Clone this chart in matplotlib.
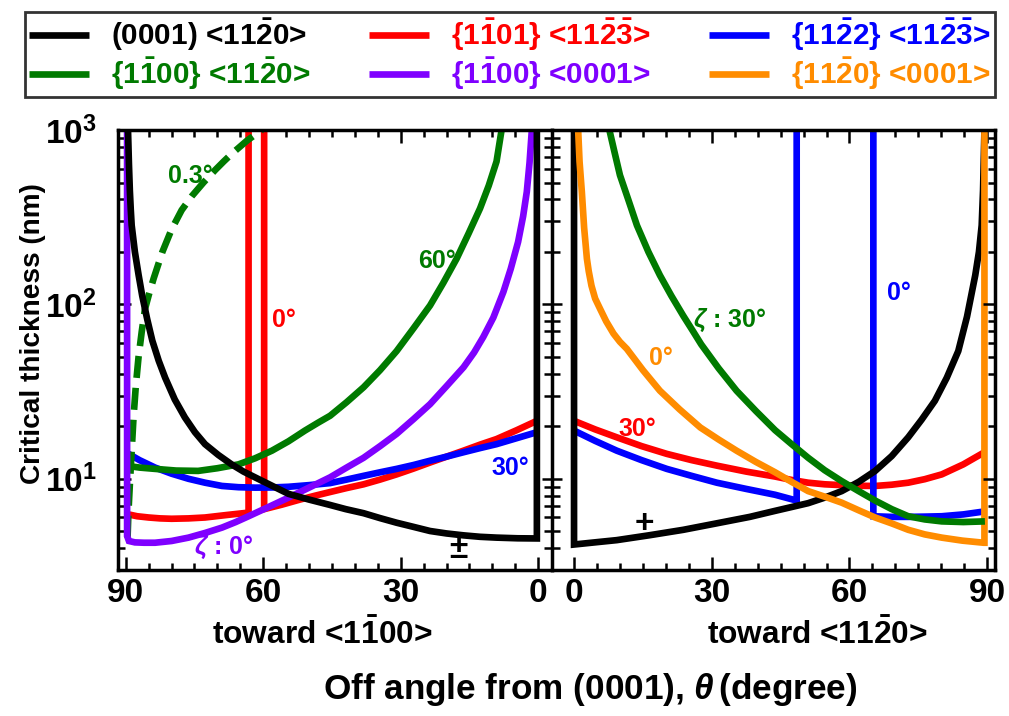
import numpy as np
import matplotlib
matplotlib.use("Agg")
import matplotlib.pyplot as plt
from matplotlib.ticker import MultipleLocator, LogLocator
from matplotlib.lines import Line2D

plt.rcParams.update({
    'font.family': ['Liberation Sans', 'DejaVu Sans'],
    'font.weight': 'bold',
    'mathtext.fontset': 'custom',
    'mathtext.rm': 'Liberation Sans:bold',
    'mathtext.bf': 'Liberation Sans:bold',
    'mathtext.it': 'Liberation Sans:bold:italic',
})

nan = np.nan
# ---------------- data: left panel (toward <1-100>) ----------------
black_L_theta = [89.5, 89.3, 89.1, 88.9, 88.7, 88.0, 87.2, 86.4, 85.3, 84.2, 82.8, 81.4, 79.3, 77.1,
                 74.9, 72.7, 69.8, 66.9, 64.3, 61.8, 58.0, 54.5, 50.0, 45.6, 42.0, 38.1, 34.5,
                 30.9, 27.2, 23.6, 20.0, 16.3, 12.7, 9.1, 4.5, 0.3, 0.3]
black_L_val = [1000, 640, 450, 350, 284, 200, 148, 112, 82, 62, 47.5, 38, 28.5, 22.5,
               18.5, 15.8, 13.7, 12.1, 11.0, 10.2, 9.1, 8.2, 7.6, 7.1, 6.7, 6.35, 5.95,
               5.6, 5.3, 5.02, 4.86, 4.74, 4.65, 4.6, 4.56, 4.55, 1000]

purple_L_theta = [89.7, 89.7, 89.3, 88.0, 86.0, 83.6, 80.0, 76.3, 72.6, 69.0, 66.0, 63.2, 58.8,
                  54.5, 50.0, 45.4, 41.8, 38.1, 34.5, 30.9, 27.2, 23.6, 20.0, 16.3, 14.0, 12.0,
                  9.8, 7.6, 6.0, 4.4, 3.3, 2.5, 1.9, 1.4]
purple_L_val = [1000, 4.7, 4.4, 4.32, 4.3, 4.3, 4.4, 4.6, 4.9, 5.25, 5.65, 6.1, 6.9,
                7.8, 8.9, 10.2, 11.6, 13.2, 15.4, 18.1, 22, 26.8, 34, 43.6, 53, 65,
                84, 118, 160, 228, 320, 442, 650, 1000]

green_L_theta = [90.0, 87.0, 83.6, 79.0, 74.2, 70.0, 65.4, 61.8, 58.1, 54.5, 50.9, 48.0, 45.4,
                 41.8, 38.1, 34.5, 30.9, 27.2, 23.6, 20.7, 17.8, 15.2, 12.7, 10.8, 9.1, 8.0]
green_L_val = [11.9, 11.6, 11.4, 11.15, 11.1, 11.5, 12.1, 13.1, 14.5, 16.4, 18.9, 21, 23,
               27.5, 33.5, 42, 54, 73, 98.6, 133, 183, 255, 355, 480, 660, 1000]

green_dash_theta = [89.6, 89.4, 89.1, 88.7, 88.3, 87.8, 87.2, 86.5, 85.8, 84.9, 83.9, 82.0, 80.0,
                    77.8, 75.6, 73.0, 70.5, 68.6, 66.8, 63.5, 60.3]
green_dash_val = [4.6, 6.5, 9.3, 14.5, 22.5, 34, 50, 70, 94, 115, 141, 200, 269,
                  347, 417, 501, 589, 661, 733, 871, 1000]

red_L_theta = [90.0, 87.5, 85.0, 82.5, 80.0, 76.3, 72.7, 68.0, 63.2, 63.2, nan, 59.8, 59.8, 56.0,
               52.0, 48.7, 45.4, 41.8, 38.1, 34.5, 30.9, 27.2, 23.6, 20.0, 16.3, 12.7, 9.1, 4.7, 0.3]
red_L_val = [6.3, 6.1, 6.0, 5.93, 5.9, 5.93, 6.0, 6.2, 6.4, 1000, nan, 1000, 6.7, 7.1,
             7.6, 8.0, 8.4, 8.85, 9.3, 9.9, 10.6, 11.45, 12.4, 13.4, 14.5, 15.7, 16.9, 19.0, 21.5]

blue_L_theta = [90.0, 87.0, 83.6, 80.0, 76.3, 72.7, 69.0, 65.4, 61.7, 58.0, 54.5, 50.0, 45.4,
                41.8, 38.1, 34.5, 30.9, 27.2, 23.6, 20.0, 16.3, 12.7, 9.1, 4.7, 0.3]
blue_L_val = [14.2, 12.8, 11.6, 10.7, 10.0, 9.5, 9.1, 8.95, 8.9, 8.92, 9.0, 9.2, 9.45,
              9.9, 10.4, 10.9, 11.4, 12.0, 12.7, 13.4, 14.2, 15.0, 15.8, 17.1, 18.5]

# ---------------- data: right panel (toward <11-20>) ----------------
black_R_theta = [0, 0, 4.5, 9.3, 16.5, 23.8, 31.0, 38.3, 43.8, 47.5, 51.0, 54.6, 58.3, 62.0,
                 65.6, 69.2, 72.8, 75.7, 78.6, 81.2, 83.7, 85.6, 87.4, 88.2, 88.8, 89.1, 89.4]
black_R_val = [1000, 4.2, 4.32, 4.45, 4.75, 5.1, 5.55, 6.05, 6.55, 6.9, 7.25, 7.8, 8.5, 9.6,
               11.1, 13.5, 17.3, 21.8, 28, 38, 54, 85, 147, 200, 284, 450, 1000]

orange_R_theta = [0.9, 1.2, 1.7, 2.2, 2.8, 3.2, 3.8, 4.6, 5.7, 7.0, 8.6, 10.0, 11.5, 15.0, 18.7,
                  23.0, 27.5, 31.5, 35.4, 39.6, 43.8, 47.4, 51.0, 54.6, 58.3, 62.0, 65.6, 69.2,
                  72.8, 76.4, 80.1, 84.6, 89.2, 89.4, 89.4]
orange_R_val = [1000, 660, 442, 275, 183, 155, 128, 108, 94, 80, 68, 61, 55.6, 42, 32,
                25, 19.7, 16.8, 14.5, 12.5, 10.9, 9.6, 8.5, 7.9, 7.3, 6.6, 6.0, 5.55,
                5.1, 4.8, 4.6, 4.42, 4.3, 4.3, 1000]

green_R_theta = [7.7, 8.8, 10.0, 11.8, 13.7, 16.2, 18.7, 21.2, 23.8, 25.8, 27.7, 31.5, 35.4, 39.6,
                 43.8, 47.4, 51.0, 54.6, 58.3, 62.0, 65.6, 69.2, 72.8, 76.4, 80.1, 84.8, 89.5]
green_R_val = [1000, 750, 551, 400, 284, 200, 147, 112, 86, 71, 59, 43, 32, 24.5,
               19, 15.8, 13.2, 11.2, 9.7, 8.5, 7.5, 6.7, 6.1, 5.85, 5.7, 5.65, 5.7]

red_R_theta = [0, 4.6, 9.3, 14.7, 20.2, 25.6, 31.1, 37.5, 43.8, 47.4, 51.0, 54.6, 58.3, 62.0,
               65.6, 69.2, 72.8, 76.4, 80.1, 84.8, 89.4]
red_R_val = [21.5, 19.2, 17.3, 15.4, 13.9, 12.8, 11.9, 11.0, 10.3, 9.85, 9.5, 9.3, 9.2, 9.12,
             9.1, 9.25, 9.5, 9.95, 10.6, 12.1, 14.2]

blue_R_theta = [0, 4.6, 9.3, 14.7, 20.2, 25.6, 31.1, 37.5, 43.8, 48.5, 48.5, nan, 65.2, 65.2,
                69.0, 72.8, 76.4, 80.1, 84.8, 89.4]
blue_R_val = [18.9, 16.5, 14.5, 12.8, 11.4, 10.4, 9.5, 8.75, 8.1, 7.5, 1000, nan, 1000, 6.1,
              6.05, 6.05, 6.07, 6.1, 6.25, 6.5]

legend_labels = [
    r"(0001) <11$\bar{2}$0>",
    r"{1$\bar{1}$00} <11$\bar{2}$0>",
    r"{1$\bar{1}$01} <11$\bar{2}\bar{3}$>",
    r"{1$\bar{1}$00} <0001>",
    r"{11$\bar{2}$2} <11$\bar{2}\bar{3}$>",
    r"{11$\bar{2}$0} <0001>",
]
x_ticks = [0, 30, 60, 90]

BLACK, RED, BLUE = '#000000', '#FF0000', '#0000FF'
GREEN, PURPLE, ORANGE = '#007A00', '#7F00FF', '#FF8C00'
LW = 4.8

W, H = 1009, 716
fig = plt.figure(figsize=(W / 100, H / 100), dpi=100)
ax1 = fig.add_axes([117.7 / W, 1 - 570 / H, (552 - 117.7) / W, 440 / H])
ax2 = fig.add_axes([552 / W, 1 - 570 / H, (995 - 552) / W, 440 / H])

kw = dict(lw=LW, solid_capstyle='butt', solid_joinstyle='miter')
ax1.plot(red_L_theta, red_L_val, color=RED, **kw)
ax1.plot(blue_L_theta, blue_L_val, color=BLUE, **kw)
ax1.plot(green_L_theta, green_L_val, color=GREEN, **kw)
ax1.plot(green_dash_theta, green_dash_val, color=GREEN, lw=LW, dashes=(3.3, 1.5))
ax1.plot(purple_L_theta, purple_L_val, color=PURPLE, **kw)
ax1.plot(black_L_theta, black_L_val, color=BLACK, **kw)

ax2.plot(red_R_theta, red_R_val, color=RED, **kw)
ax2.plot(blue_R_theta, blue_R_val, color=BLUE, **kw)
ax2.plot(black_R_theta, black_R_val, color=BLACK, **kw)
ax2.plot(orange_R_theta, orange_R_val, color=ORANGE, **kw)
ax2.plot(green_R_theta, green_R_val, color=GREEN, **kw)

TLS = 24
for ax in (ax1, ax2):
    ax.set_yscale('log')
    ax.set_ylim(3, 1000)
    ax.yaxis.set_major_locator(LogLocator(base=10, numticks=10))
    ax.yaxis.set_minor_locator(LogLocator(base=10, subs=np.arange(2, 10), numticks=20))
    ax.xaxis.set_major_locator(plt.FixedLocator(x_ticks))
    ax.xaxis.set_minor_locator(MultipleLocator(5))
    ax.tick_params(axis='x', which='both', direction='in', top=True, bottom=True, width=1.8)
    ax.tick_params(axis='x', which='major', length=9.5, labelsize=TLS, pad=6)
    ax.tick_params(axis='x', which='minor', length=5)
    for s in ax.spines.values():
        s.set_linewidth(2.5)

ax1.set_xlim(91.75, -3.0)
ax2.set_xlim(-4.8, 91.7)
ax1.spines['right'].set_visible(False)
ax1.tick_params(axis='y', which='both', direction='in', left=True, right=False, width=1.8)
ax1.tick_params(axis='y', which='major', length=9, labelsize=TLS, pad=15)
ax1.tick_params(axis='y', which='minor', length=5)

ax2.tick_params(axis='y', which='both', direction='inout', left=True, right=False,
                labelleft=False, width=1.8)
ax2.tick_params(axis='y', which='major', length=15)
ax2.tick_params(axis='y', which='minor', length=11)

tw = ax2.twinx()
tw.set_yscale('log')
tw.set_ylim(3, 1000)
tw.yaxis.set_major_locator(LogLocator(base=10, numticks=10))
tw.yaxis.set_minor_locator(LogLocator(base=10, subs=np.arange(2, 10), numticks=20))
tw.tick_params(axis='y', which='both', direction='in', right=True, labelright=False, width=1.8)
tw.tick_params(axis='y', which='major', length=9)
tw.tick_params(axis='y', which='minor', length=5)
for s in tw.spines.values():
    s.set_visible(False)

# annotations
fs = 18
ax1.text(76.0, 545, "0.3°", color=GREEN, fontsize=fs, ha='center', va='center')
ax1.text(55.5, 81, "0°", color=RED, fontsize=fs, ha='center', va='center')
ax1.text(22.1, 177, "60°", color=GREEN, fontsize=fs, ha='center', va='center')
ax1.text(68.6, 4.06, r"$\zeta$ : 0°", color=PURPLE, fontsize=fs, ha='center', va='center')
ax1.text(6.0, 11.6, "30°", color=BLUE, fontsize=fs, ha='center', va='center')
ax1.text(17.5, 3.91, "±", color=BLACK, fontsize=24, ha='center', va='center')
ax2.text(33.8, 81, r"$\zeta$ : 30°", color=GREEN, fontsize=fs, ha='center', va='center')
ax2.text(19.0, 49.5, "0°", color=ORANGE, fontsize=fs, ha='center', va='center')
ax2.text(13.9, 19.4, "30°", color=RED, fontsize=fs, ha='center', va='center')
ax2.text(15.3, 5.5, "+", color=BLACK, fontsize=24, ha='center', va='center')
ax2.text(70.8, 117, "0°", color=BLUE, fontsize=fs, ha='center', va='center')

# axis titles
fig.text(322 / W, 1 - 635 / H, r"toward <1$\bar{1}$00>", fontsize=22.8, ha='center', va='center')
fig.text(817 / W, 1 - 635 / H, r"toward <11$\bar{2}$0>", fontsize=22.8, ha='center', va='center')
fig.text(590 / W, 1 - 690 / H, r"Off angle from (0001), $\theta\,$(degree)", fontsize=25.3,
         ha='center', va='center')
fig.text(33 / W, 1 - 334 / H, "Critical thickness (nm)", fontsize=20.2, rotation=90,
         ha='center', va='center')

# legend
colors = [BLACK, GREEN, RED, PURPLE, BLUE, ORANGE]
handles = [Line2D([], [], color=c, lw=LW, solid_capstyle='butt') for c in colors]
leg = fig.legend(handles, legend_labels, ncol=3, loc='center',
                 bbox_to_anchor=(25 / W, 1 - 97 / H, 970 / W, 85 / H), mode='expand',
                 frameon=True, fancybox=False, edgecolor='black', fontsize=21.4,
                 handlelength=2.0, handletextpad=0.75, borderaxespad=0, borderpad=0.15,
                 labelspacing=0.1, columnspacing=1.0)
leg.get_frame().set_linewidth(2.0)
for t, c in zip(leg.get_texts(), colors):
    t.set_color(c)

fig.savefig("out.png", dpi=100)
